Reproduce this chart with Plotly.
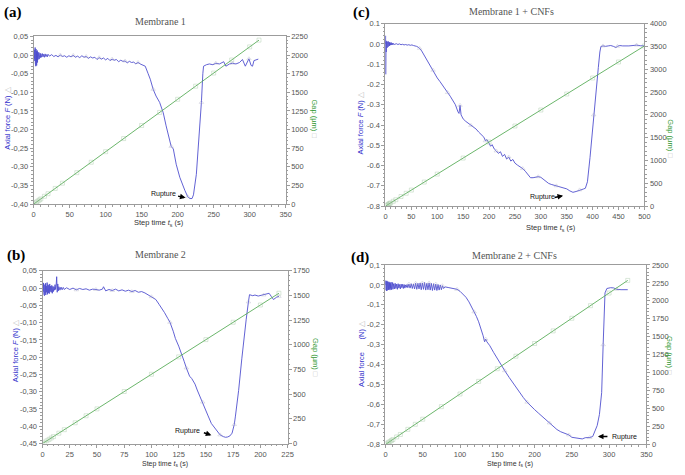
import plotly.graph_objects as go

W, H = 685, 475
def px(x): return x / W
def py(y): return 1 - y / H

# ---------------- Panel (a): Membrane 1 ----------------
tA = [0,0.3,0.6,0.9,1.2,1.5,1.8,2.1,2.4,2.7,3,3.3,3.6,3.9,4.2,4.5,4.8,5.1,5.4,5.7,6,6.4,6.8,7.2,7.6,8,8.5,9,9.5,10,11,12,13,14,15,16,17,18,19,20,
      22,25,28,31,34,37,40,43,46,49,52,55,58,61,64,67,70,73,76,79,82,85,88,91,94,97,100,103,106,109,112,115,118,121,124,127,130,133,136,139,142,145,148,
      151,155,159,162,166,170,175,180,184,189,191,194,198,203,207,210,214,217,220,222,226,230,233,235,236,240,244,249,253,258,262,264,267,272,276,281,286,290,294,297,299,302,304,306,308,312]
fA = [0.000,0.010,-0.008,0.014,-0.012,0.006,-0.016,0.020,-0.022,0.012,-0.030,0.016,-0.024,0.010,-0.028,0.006,-0.014,0.012,-0.020,0.008,-0.012,0.006,-0.010,0.007,-0.011,0.004,-0.008,0.005,-0.007,0.003,-0.006,0.004,-0.005,0.002,-0.006,0.003,-0.004,0.001,-0.005,0.002,
      -0.003,0.001,-0.004,-0.001,-0.005,0.000,-0.004,-0.002,-0.006,-0.002,-0.005,-0.001,-0.006,-0.003,-0.007,-0.002,-0.006,-0.004,-0.009,-0.005,-0.008,-0.006,-0.012,-0.007,-0.011,-0.008,-0.013,-0.009,-0.015,-0.011,-0.014,-0.012,-0.018,-0.014,-0.017,-0.016,-0.021,-0.017,-0.020,-0.019,-0.024,-0.020,-0.024,
      -0.026,-0.030,-0.050,-0.065,-0.092,-0.110,-0.127,-0.155,-0.190,-0.235,-0.245,-0.252,-0.293,-0.328,-0.350,-0.363,-0.380,-0.385,-0.385,-0.375,-0.320,-0.215,-0.127,-0.050,-0.030,-0.026,-0.024,-0.026,-0.022,-0.024,-0.020,-0.018,-0.030,-0.024,-0.022,-0.024,-0.020,-0.012,-0.030,-0.015,-0.010,-0.028,-0.030,-0.015,-0.013,-0.011]
tgA = [0,2,4,6,8,10,15,20,30,40,60,80,100,125,150,175,200,225,250,275,300,313]
gA = [0,14,28,42,56,70,105,140,211,281,422,562,703,879,1055,1230,1406,1582,1758,1933,2109,2200]

# ---------------- Panel (c): Membrane 1 + CNFs ----------------
tC = [0,0.2,0.4,0.6,0.8,1.0,1.3,1.6,2,2.5,3,3.5,4,4.5,5,5.5,6,6.5,7,7.5,8,9,10,11,12,13,14,15,16,
      18,21,24,27,30,33,36,39,42,45,48,51,54,57,60,
      63,66,70,75,80,85,88,92,96,100,105,110,115,120,125,130,135,140,142,144,146,148,150,155,160,165,170,175,180,185,190,193,196,200,203,206,210,214,218,222,226,230,234,238,242,246,250,255,260,265,270,275,280,285,290,295,300,305,310,315,320,330,340,350,356,362,368,375,382,386,
      390,395,398,402,405,408,411,414,416,420,425,430,435,440,445,448,452,458,465,470,478,485,492,500]
fC = [0.0,0.04,-0.15,0.02,-0.10,0.01,-0.04,0.015,-0.03,0.012,-0.02,0.01,-0.018,0.008,-0.015,0.012,-0.012,0.006,-0.01,0.008,-0.008,0.006,-0.006,0.007,-0.005,0.004,-0.004,0.003,-0.003,
      -0.002,0.001,-0.003,0.000,-0.004,-0.002,-0.005,-0.003,-0.006,-0.004,-0.007,-0.005,-0.008,-0.009,-0.012,
      -0.016,-0.022,-0.035,-0.058,-0.080,-0.100,-0.118,-0.130,-0.150,-0.168,-0.185,-0.205,-0.222,-0.240,-0.258,-0.280,-0.300,-0.335,-0.343,-0.303,-0.350,-0.360,-0.370,-0.382,-0.392,-0.402,-0.412,-0.420,-0.435,-0.448,-0.460,-0.478,-0.472,-0.490,-0.505,-0.497,-0.518,-0.528,-0.540,-0.532,-0.555,-0.545,-0.568,-0.558,-0.578,-0.570,-0.588,-0.598,-0.606,-0.615,-0.628,-0.645,-0.660,-0.660,-0.657,-0.655,-0.658,-0.668,-0.678,-0.688,-0.693,-0.700,-0.708,-0.715,-0.725,-0.732,-0.728,-0.720,-0.716,-0.712,
      -0.680,-0.560,-0.470,-0.350,-0.277,-0.190,-0.117,-0.040,-0.013,-0.010,-0.012,-0.010,-0.008,-0.012,-0.018,-0.012,-0.008,-0.010,-0.012,-0.010,-0.008,-0.006,-0.009,-0.010]
tgC = [0,2,4,6,8,10,15,20,30,40,50,75,100,150,200,250,300,350,400,450,500]
gC = [0,14,28,42,56,70,105,140,210,281,351,527,702,1053,1404,1755,2106,2457,2808,3159,3510]

# ---------------- Panel (b): Membrane 2 ----------------
tB = [0,0.3,0.6,0.9,1.2,1.5,1.8,2.1,2.4,2.7,3,3.4,3.8,4.2,4.6,5,5.4,5.8,6.2,6.6,7,7.5,8,8.5,9,9.5,10,10.5,11,11.5,12,12.5,13,13.5,14,14.5,15,16,17,18,19,20,
      22,25,28,31,34,37,40,43,46,49,52,55,56,58,61,64,67,70,73,76,79,82,85,88,91,94,
      97,100,104,107,110,112,115,117,120,122,125,127,130,132,135,137,140,142,145,147,150,152,155,157,160,163,166,168,170,172,174,176,177,180,183,185,187,189,190,193,195,198,200,203,205,208,210,212,215,217]
fB = [0.0,0.012,-0.010,0.015,-0.018,0.008,-0.022,0.010,-0.015,0.014,-0.020,0.006,-0.012,0.016,-0.018,0.010,-0.014,0.008,-0.016,0.012,-0.010,0.006,-0.012,0.008,-0.015,0.005,-0.010,0.004,-0.006,0.010,-0.004,0.008,0.033,-0.012,0.012,-0.008,0.004,-0.006,0.003,-0.005,0.002,-0.004,
      0.001,-0.004,0.000,-0.005,-0.001,-0.004,-0.002,-0.006,-0.003,-0.004,-0.006,-0.003,0.004,-0.008,-0.004,-0.007,-0.003,-0.008,-0.005,-0.009,-0.006,-0.010,-0.007,-0.012,-0.010,-0.014,
      -0.019,-0.025,-0.033,-0.047,-0.060,-0.071,-0.088,-0.099,-0.125,-0.146,-0.168,-0.184,-0.212,-0.231,-0.255,-0.262,-0.278,-0.295,-0.316,-0.330,-0.353,-0.370,-0.392,-0.400,-0.415,-0.425,-0.430,-0.432,-0.431,-0.428,-0.420,-0.395,-0.373,-0.297,-0.203,-0.140,-0.090,-0.040,-0.019,-0.022,-0.020,-0.023,-0.021,-0.020,-0.018,-0.015,-0.024,-0.033,-0.026,-0.024]
tgB = [0,2,4,6,8,10,15,20,30,40,50,75,100,125,150,175,200,217]
gB = [0,14,28,42,56,70,105,140,210,281,351,527,702,878,1053,1229,1404,1523]

# ---------------- Panel (d): Membrane 2 + CNFs ----------------
tD = [0,0.3,0.6,0.9,1.2,1.5,1.8,2.1,2.4,2.7,3,3.5,4,4.5,5,5.5,6,6.5,7,7.5,8,8.5,9,9.5,10,11,12,13,14,15,16,17,18,19,20,21,22,23,24,25,26,27,28,29,30,
      31.5,33,34.5,36,37.5,39,40.5,42,43.5,45,46.5,48,49.5,51,52.5,54,55.5,57,58.5,60,61.5,63,64.5,66,67.5,69,70.5,72,73.5,75,76.5,78,
      80,84,88,92,96,100,104,108,112,116,119,122,125,128,131,133,134.5,136,140,145,150,155,160,166,170,175,180,185,190,195,200,205,210,215,220,225,230,235,240,243,246,250,255,260,264,268,274,278,281,284,287,290,292,293.5,294.5,297,302,306,310,316,320,325]
fD = [0.0,0.022,-0.025,0.018,-0.030,0.012,-0.020,0.020,-0.028,0.015,-0.022,0.010,-0.025,0.016,-0.020,0.012,-0.026,0.008,-0.018,0.014,-0.024,0.010,-0.020,0.012,-0.022,0.006,-0.020,0.008,-0.018,0.004,-0.022,0.006,-0.016,0.002,-0.020,0.004,-0.014,0.003,-0.018,0.002,-0.016,0.000,-0.012,0.002,-0.014,
      0.004,-0.016,0.006,-0.018,0.005,-0.020,0.008,-0.022,0.008,-0.020,0.010,-0.024,0.010,-0.022,0.012,-0.026,0.008,-0.024,0.010,-0.026,0.008,-0.028,0.006,-0.026,0.004,-0.028,0.002,-0.026,0.000,-0.024,-0.004,-0.018,
      -0.010,-0.013,-0.016,-0.017,-0.022,-0.032,-0.045,-0.062,-0.085,-0.112,-0.135,-0.158,-0.185,-0.215,-0.255,-0.285,-0.272,-0.285,-0.305,-0.338,-0.370,-0.400,-0.430,-0.464,-0.486,-0.513,-0.540,-0.565,-0.588,-0.608,-0.625,-0.642,-0.659,-0.675,-0.692,-0.708,-0.725,-0.736,-0.742,-0.745,-0.752,-0.764,-0.767,-0.768,-0.772,-0.766,-0.765,-0.760,-0.735,-0.705,-0.650,-0.540,-0.300,-0.120,-0.040,-0.018,-0.014,-0.015,-0.022,-0.024,-0.023,-0.024]
tgD = [0,2,4,6,8,10,15,20,30,40,50,75,100,125,150,175,200,225,250,275,300,325]
gD = [0,14,28,42,56,70,105,140,211,281,352,527,703,879,1055,1230,1406,1582,1758,1933,2109,2285]

# tick labels
yvA = [0.05,0.00,-0.05,-0.10,-0.15,-0.20,-0.25,-0.30,-0.35,-0.40]
ytA = ["0,05","0,00","-0,05","-0,10","-0,15","-0,20","-0,25","-0,30","-0,35","-0,40"]
yvB = [0.05,0.00,-0.05,-0.10,-0.15,-0.20,-0.25,-0.30,-0.35,-0.40,-0.45]
ytB = ["0,05","0,00","-0,05","-0,10","-0,15","-0,20","-0,25","-0,30","-0,35","-0,40","-0,45"]
yvC = [0.1,0.0,-0.1,-0.2,-0.3,-0.4,-0.5,-0.6,-0.7,-0.8]
ytC = ["0.1","0.0","-0.1","-0.2","-0.3","-0.4","-0.5","-0.6","-0.7","-0.8"]
yvD = [0.1,0.0,-0.1,-0.2,-0.3,-0.4,-0.5,-0.6,-0.7,-0.8]
ytD = ["0,1","0,0","-0,1","-0,2","-0,3","-0,4","-0,5","-0,6","-0,7","-0,8"]

titles = ["Membrane 1", "Membrane 1 + CNFs", "Membrane 2", "Membrane 2 + CNFs"]
letters = ["(a)", "(c)", "(b)", "(d)"]

BLUE = "#5050cf"
GREEN = "#5aae5a"
GRID = "#9c9c9c"
TICKF = dict(family="Liberation Sans, Arial", size=7.5, color="#555")

panels = [
    dict(t=tA, f=fA, tg=tgA, g=gA, xr=[0,350], xd=50, xm=10, yr=[-0.40,0.05], yv=yvA, yt=ytA, ym=0.01, gr=[0,2250], gd=250, gm=50,
         box=(32,287,33,204)),
    dict(t=tC, f=fC, tg=tgC, g=gC, xr=[0,500], xd=50, xm=10, yr=[-0.8,0.1], yv=yvC, yt=ytC, ym=0.02, gr=[0,4000], gd=500, gm=100,
         box=(388,650,20,206)),
    dict(t=tB, f=fB, tg=tgB, g=gB, xr=[0,225], xd=25, xm=5, yr=[-0.45,0.05], yv=yvB, yt=ytB, ym=0.01, gr=[0,1750], gd=250, gm=50,
         box=(41,289,272,448)),
    dict(t=tD, f=fD, tg=tgD, g=gD, xr=[0,350], xd=50, xm=10, yr=[-0.8,0.1], yv=yvD, yt=ytD, ym=0.02, gr=[0,2500], gd=250, gm=50,
         box=(388,652,266,449)),
]

fig = go.Figure()
layout = {}
for i, p in enumerate(panels):
    xn = "x" if i == 0 else f"x{i+1}"
    yf = f"y{2*i+1}" if i > 0 else "y"
    yg = f"y{2*i+2}"
    xkey = "xaxis" if i == 0 else f"xaxis{i+1}"
    yfkey = "yaxis" if i == 0 else f"yaxis{2*i+1}"
    ygkey = f"yaxis{2*i+2}"
    x0, x1, y0, y1 = p["box"]
    fig.add_trace(go.Scatter(x=p["tg"], y=p["g"], xaxis=xn, yaxis=yg, mode="lines+markers",
                             line=dict(color=GREEN, width=0.9),
                             marker=dict(symbol="square-open", size=4, color="rgba(150,190,150,0.6)", line=dict(width=0.6))))
    fig.add_trace(go.Scatter(x=p["t"], y=p["f"], xaxis=xn, yaxis=yf, mode="lines",
                             line=dict(color=BLUE, width=0.9)))
    fig.add_trace(go.Scatter(x=p["t"][45::6], y=p["f"][45::6], xaxis=xn, yaxis=yf, mode="markers",
                             marker=dict(symbol="triangle-up-open", size=4, color="rgba(170,170,190,0.55)", line=dict(width=0.6))))
    layout[xkey] = dict(domain=[px(x0), px(x1)], anchor=yf, range=p["xr"], tick0=0, dtick=p["xd"],
                        showline=True, linecolor=GRID, linewidth=1, mirror=True, showgrid=False, zeroline=False,
                        ticks="outside", ticklen=3, tickcolor=GRID, tickfont=TICKF,
                        minor=dict(tickmode="linear", tick0=0, dtick=p["xm"], ticks="outside", ticklen=1.5, tickcolor=GRID))
    layout[yfkey] = dict(domain=[py(y1), py(y0)], anchor=xn, range=p["yr"], tickmode="array", tickvals=p["yv"], ticktext=p["yt"],
                         showline=True, linecolor=GRID, linewidth=1, showgrid=False, zeroline=False,
                         ticks="outside", ticklen=3, tickcolor=GRID, tickfont=TICKF,
                         minor=dict(tickmode="linear", tick0=0, dtick=p["ym"], ticks="outside", ticklen=1.5, tickcolor=GRID))
    layout[ygkey] = dict(overlaying=yf, side="right", anchor=xn, range=p["gr"], tick0=0, dtick=p["gd"],
                         showline=True, linecolor=GRID, linewidth=1, showgrid=False, zeroline=False,
                         ticks="outside", ticklen=3, tickcolor=GRID, tickfont=TICKF,
                         minor=dict(tickmode="linear", tick0=0, dtick=p["gm"], ticks="outside", ticklen=1.5, tickcolor=GRID))

anns = []
def T(x, y, text, size=7.5, color="#333", family="Liberation Sans, Arial", angle=0, xanchor="center", yanchor="middle"):
    anns.append(dict(x=px(x), y=py(y), xref="paper", yref="paper", text=text, showarrow=False, textangle=angle,
                     xanchor=xanchor, yanchor=yanchor, font=dict(size=size, color=color, family=family)))

serif = "Liberation Serif, Times New Roman"
T(160, 18, titles[0], 10, "#555", serif)
T(516, 8, titles[1], 10, "#555", serif)
T(160, 255, titles[2], 10, "#555", serif)
T(519, 256, titles[3], 10, "#555", serif)
T(11, 9, "<b>" + letters[0] + "</b>", 15, "#000", serif)
T(364, 9, "<b>" + letters[1] + "</b>", 15, "#000", serif)
T(14, 256, "<b>" + letters[2] + "</b>", 15, "#000", serif)
T(362, 258, "<b>" + letters[3] + "</b>", 15, "#000", serif)

st = "Step time <i>t</i><sub>s</sub> (s)"
T(159, 230, st, yanchor="bottom")
T(555, 235, st, yanchor="bottom")
T(165, 475, st, 7, yanchor="bottom")
T(514, 475, st, 7, yanchor="bottom")

tri = "<span style='color:#c0c0c0'>△</span>"
sq = "<span style='color:#c0c0c0'>□</span>"
T(6, 116, "Axial force <i>F</i> (N) " + tri, 7.5, "#3333cc", angle=-90)
T(363, 121, "Axial force <i>F</i> (N) " + tri, 7.5, "#3333cc", angle=-90)
T(13, 353, "Axial force <i>F</i> (N) " + tri, 7.5, "#3333cc", angle=-90)
T(363, 356, "Axial force      (N) " + tri, 7.5, "#3333cc", angle=-90)
T(316, 117, "Gap (µm) " + sq, 7.5, "#339933", angle=90)
T(676, 137, "Gap (µm) " + sq, 7.5, "#339933", angle=90)
T(318, 360, "Gap (µm) " + sq, 7.5, "#339933", angle=90)
T(676, 358, "Gap (µm) " + sq, 7.5, "#339933", angle=90)

rup = [
    ("x", "y", 181, -0.374, 211, -0.383, -9, -2),
    ("x2", "y3", 303, -0.755, 343, -0.749, -10, 2),
    ("x3", "y5", 133, -0.415, 155, -0.426, -9, -3),
    ("x4", "y7", 321, -0.760, 285, -0.760, 11, 0),
]
for xr, yr, tx, ty, hx, hy, ax, ay in rup:
    anns.append(dict(x=tx, y=ty, xref=xr, yref=yr, text="Rupture", showarrow=False,
                     font=dict(size=7, color="#111", family="Liberation Sans, Arial")))
    anns.append(dict(x=hx, y=hy, xref=xr, yref=yr, text=" ", showarrow=True, ax=ax, ay=ay, standoff=0,
                     arrowhead=2, arrowsize=0.8, arrowwidth=1.4, arrowcolor="#000", font=dict(size=1)))

fig.update_layout(**layout)
fig.update_layout(width=W, height=H, margin=dict(l=0, r=0, t=0, b=0), showlegend=False,
                  plot_bgcolor="white", paper_bgcolor="white", annotations=anns)
fig.write_html("out.html", config={"displayModeBar": False},
               post_script="document.body.style.margin='0px';document.body.style.overflow='hidden';")
